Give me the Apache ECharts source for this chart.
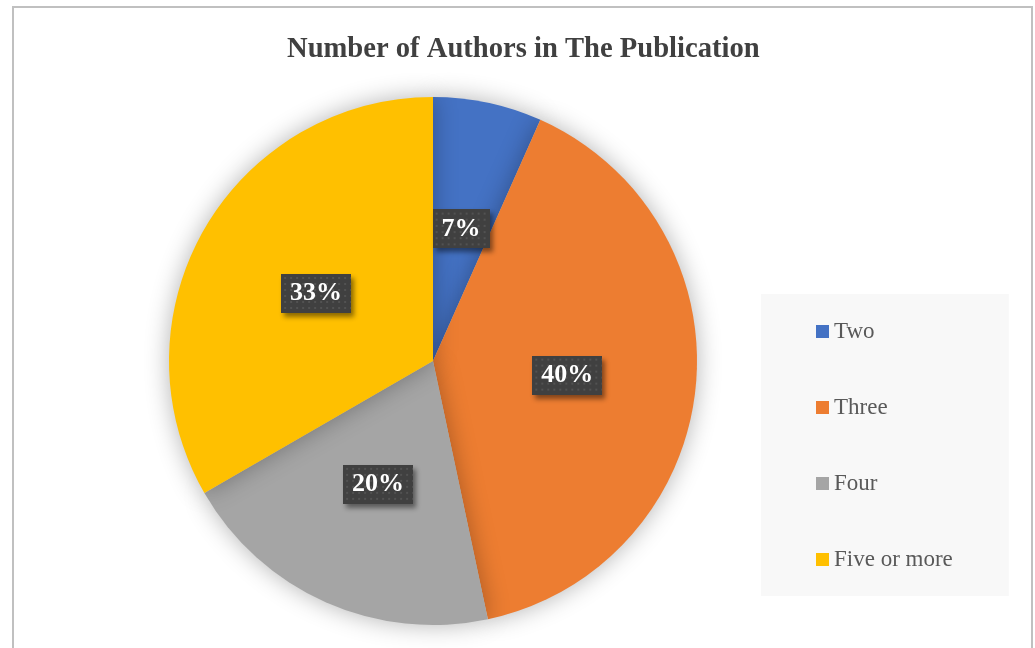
<!DOCTYPE html>
<html>
<head>
<meta charset="utf-8">
<script src="https://cdn.jsdelivr.net/npm/echarts@6/dist/echarts.min.js"></script>
<style>
html,body{margin:0;padding:0;background:#fff;}
#main{width:1035px;height:648px;}
</style>
</head>
<body>
<div id="main"></div>
<script>
var titleText = 'Number of Authors in The Publication';
var categories = ['Two', 'Three', 'Four', 'Five or more'];
var counts = [2, 12, 6, 10];
var colors = ['#4472C4', '#ED7D31', '#A5A5A5', '#FFC000'];

function makeDots(w, h) {
  var c = document.createElement('canvas');
  c.width = w; c.height = h;
  var g = c.getContext('2d');
  g.fillStyle = '#404040';
  g.fillRect(0, 0, w, h);
  g.fillStyle = '#525252';
  for (var y = 3; y < h; y += 6) {
    for (var x = 3; x < w; x += 6) {
      g.fillRect(x, y, 2, 2);
    }
  }
  return c;
}
var dotsSmall = makeDots(57, 38);
var dotsLarge = makeDots(70, 39);

var chart = echarts.init(document.getElementById('main'), null, {renderer: 'canvas'});
var data = categories.map(function (c, i) {
  return {
    name: c, value: counts[i], itemStyle: {color: colors[i]},
    label: {backgroundColor: {image: i === 0 ? dotsSmall : dotsLarge}}
  };
});
chart.setOption({
  animation: false,
  backgroundColor: '#ffffff',
  title: {
    text: titleText,
    left: 282,
    top: 30,
    padding: [5, 5, 5, 5],
    textStyle: {
      fontFamily: 'Liberation Serif',
      fontWeight: 'bold',
      fontSize: 28.6,
      color: '#404040'
    }
  },
  legend: {
    orient: 'vertical',
    left: 761,
    top: 294,
    padding: [26, 56, 25, 55],
    backgroundColor: '#f8f8f8',
    itemWidth: 13,
    itemHeight: 13,
    itemGap: 53,
    icon: 'rect',
    data: categories,
    textStyle: {
      fontFamily: 'Liberation Serif',
      fontSize: 23,
      color: '#595959'
    }
  },
  graphic: [{
    type: 'rect',
    shape: {x: 13, y: 7, width: 1019, height: 660},
    style: {fill: 'none', stroke: '#c0c0c0', lineWidth: 2},
    silent: true,
    z: 100
  }],
  series: [{
    type: 'pie',
    center: [433, 361],
    radius: [0, 264],
    startAngle: 90,
    clockwise: true,
    data: data,
    itemStyle: {
      shadowBlur: 24,
      shadowColor: 'rgba(0,0,0,0.3)'
    },
    emphasis: {disabled: true},
    labelLine: {show: false},
    label: {
      show: true,
      position: 'inside',
      formatter: function (p) { return Math.round(p.percent) + '%'; },
      fontFamily: 'Liberation Serif',
      fontWeight: 'bold',
      fontSize: 26,
      color: '#ffffff',
      padding: [7, 9, 6, 9],
      shadowBlur: 5,
      shadowOffsetX: 3,
      shadowOffsetY: 4,
      shadowColor: 'rgba(0,0,0,0.45)'
    }
  }]
});
</script>
</body>
</html>
